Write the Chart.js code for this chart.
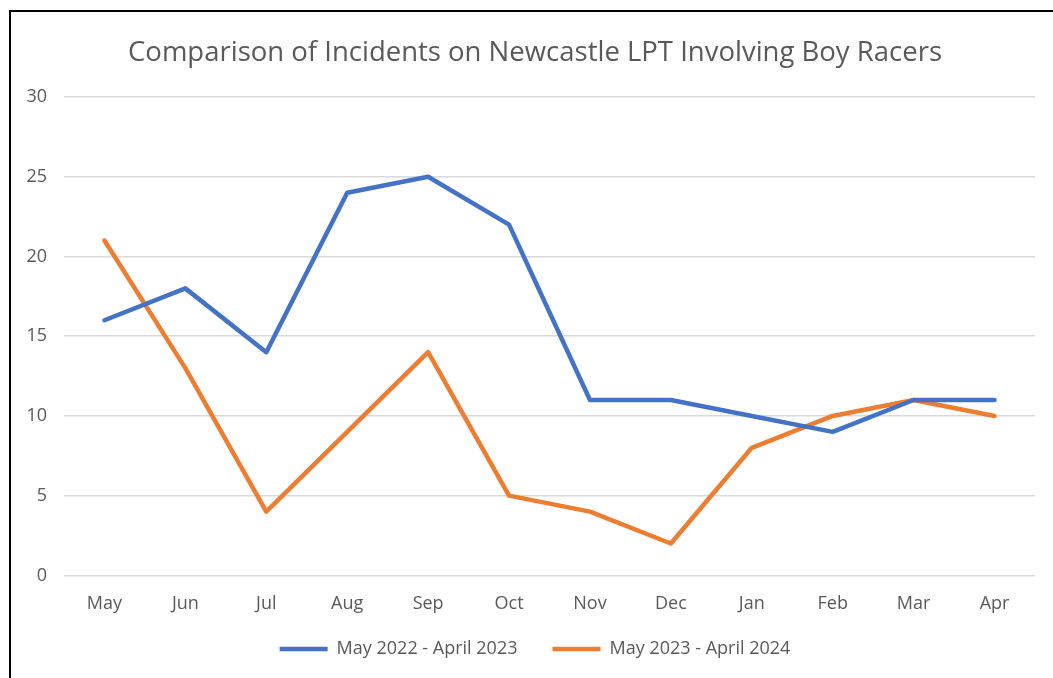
<!DOCTYPE html>
<html>
<head>
<meta charset="utf-8">
<script src="https://cdn.jsdelivr.net/npm/chart.js@4"></script>
<style>
  html, body { margin: 0; padding: 0; background: #fff; }
  #frame { position: absolute; left: 9px; top: 10px; width: 1100px; height: 700px;
           border-left: 2px solid #000; border-top: 2px solid #000; }
  #wrap { position: absolute; left: 0; top: 0; width: 1053px; height: 678px; }
</style>
</head>
<body>
<div id="frame"></div>
<div id="wrap"><canvas id="myChart"></canvas></div>
<script>
const months = ['May', 'Jun', 'Jul', 'Aug', 'Sep', 'Oct', 'Nov', 'Dec', 'Jan', 'Feb', 'Mar', 'Apr'];
const series2022 = [16, 18, 14, 24, 25, 22, 11, 11, 10, 9, 11, 11];
const series2023 = [21, 13, 4, 9, 14, 5, 4, 2, 8, 10, 11, 10];
const seriesNames = ['May 2022 - April 2023', 'May 2023 - April 2024'];
const titleText = 'Comparison of Incidents on Newcastle LPT Involving Boy Racers';

const grey = '#595959';
const fontFamily = '"Open Sans", sans-serif';

// legend sits closer to the axis than its item spacing would allow
const liftLegend = {
  id: 'liftLegend',
  afterLayout(chart) {
    chart.legend.top -= 28;
  }
};

const ctx = document.getElementById('myChart');
const myChart = new Chart(ctx, {
  type: 'line',
  data: {
    labels: months,
    datasets: [{
      label: seriesNames[0],
      data: series2022,
      borderColor: '#4472C4',
      backgroundColor: '#4472C4',
      borderWidth: 4.5,
      pointRadius: 0,
      borderCapStyle: 'round',
      borderJoinStyle: 'round',
      tension: 0
    }, {
      label: seriesNames[1],
      data: series2023,
      borderColor: '#ED7D31',
      backgroundColor: '#ED7D31',
      borderWidth: 4.5,
      pointRadius: 0,
      borderCapStyle: 'round',
      borderJoinStyle: 'round',
      tension: 0
    }]
  },
  plugins: [liftLegend],
  options: {
    responsive: true,
    maintainAspectRatio: false,
    animation: false,
    layout: { padding: { left: 17, right: 0, top: 37, bottom: 0 } },
    plugins: {
      title: {
        display: true,
        text: titleText,
        color: grey,
        font: { family: fontFamily, size: 27.5, weight: 'normal' },
        padding: { top: 0, bottom: 27 }
      },
      legend: {
        position: 'bottom',
        maxHeight: 45,
        labels: {
          color: grey,
          font: { family: fontFamily, size: 18 },
          usePointStyle: true,
          pointStyle: 'line',
          pointStyleWidth: 48,
          padding: 35
        }
      },
      tooltip: { enabled: false }
    },
    scales: {
      x: {
        offset: true,
        grid: { display: false, drawTicks: false },
        border: { display: false },
        ticks: { color: grey, font: { family: fontFamily, size: 18 }, padding: 18 }
      },
      y: {
        min: 0,
        max: 30,
        afterFit: (scale) => { scale.width = 47; },
        ticks: { stepSize: 5, color: grey, font: { family: fontFamily, size: 18 }, padding: 17 },
        grid: { color: '#D9D9D9', lineWidth: 1.5, drawTicks: false },
        border: { display: false }
      },
      yRight: {
        position: 'right',
        afterFit: (scale) => { scale.width = 18; },
        ticks: { display: false },
        grid: { display: false, drawTicks: false },
        border: { display: false }
      }
    }
  }
});
</script>
</body>
</html>
